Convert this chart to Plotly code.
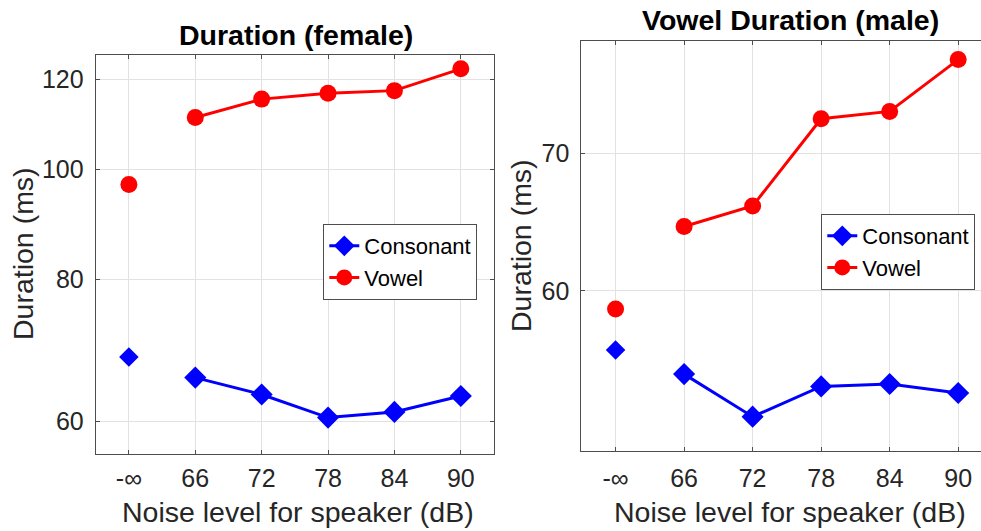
import math
import plotly.graph_objects as go

# Noise levels (first entry is the quiet / no-noise condition)
noise_labels = ["-∞", "66", "72", "78", "84", "90"]
noise_pos = [0, 1, 2, 3, 4, 5]

# Segment durations in ms
female_consonant = [68.4, 65.6, 63.4, 60.5, 61.2, 63.2]
female_vowel = [97.0, 111.1, 115.3, 116.7, 117.3, 122.6]
male_consonant = [56.15, 54.65, 52.1, 53.9, 54.05, 53.5]
male_vowel = [58.8, 64.5, 66.0, 72.8, 73.4, 77.8]

W, H = 981, 531
FONT = "Liberation Sans, Arial, Helvetica, sans-serif"
AX_COL = "#262626"
GRID = "#e2e2e2"
BLUE = "#0000ff"
RED = "#ff0000"


def px(x):
    return x / W


def py(y):
    return 1 - y / H


fig = go.Figure()


def add_panel(xa, ya, legend, cons, vow):
    # quiet condition drawn as isolated markers
    fig.add_trace(go.Scatter(
        x=noise_pos[:1], y=cons[:1], mode="markers", xaxis=xa, yaxis=ya,
        marker=dict(symbol="diamond", size=15, color=BLUE),
        showlegend=False, hoverinfo="skip"))
    fig.add_trace(go.Scatter(
        x=noise_pos[:1], y=vow[:1], mode="markers", xaxis=xa, yaxis=ya,
        marker=dict(symbol="circle", size=17, color=RED),
        showlegend=False, hoverinfo="skip"))
    # noise conditions joined by lines
    fig.add_trace(go.Scatter(
        x=noise_pos[1:], y=cons[1:], mode="lines+markers", name="Consonant",
        xaxis=xa, yaxis=ya, legend=legend,
        line=dict(color=BLUE, width=3),
        marker=dict(symbol="diamond", size=17, color=BLUE)))
    fig.add_trace(go.Scatter(
        x=noise_pos[1:], y=vow[1:], mode="lines+markers", name="Vowel",
        xaxis=xa, yaxis=ya, legend=legend,
        line=dict(color=RED, width=3),
        marker=dict(symbol="circle", size=17, color=RED)))


add_panel("x", "y", "legend", female_consonant, female_vowel)
add_panel("x2", "y2", "legend2", male_consonant, male_vowel)

axis_common = dict(
    showgrid=True, gridcolor=GRID, gridwidth=1,
    showline=True, linecolor="#4d4d4d", linewidth=1,
    ticks="inside", ticklen=4, tickcolor="#4d4d4d",
    tickfont=dict(family=FONT, size=25, color=AX_COL),
    zeroline=False,
)

legend_common = dict(
    bgcolor="white", bordercolor="#4d4d4d", borderwidth=1,
    font=dict(family=FONT, size=22, color="black"),
    xanchor="right", yanchor="top", tracegroupgap=0,
)

fig.update_layout(
    width=W, height=H,
    margin=dict(l=0, r=0, t=0, b=0),
    paper_bgcolor="white", plot_bgcolor="white",
    xaxis=dict(axis_common, domain=[px(95.7), px(494)], range=[-0.5, 5.5],
               tickvals=noise_pos, ticktext=noise_labels, mirror="ticks",
               ticklabelstandoff=2, anchor="y"),
    yaxis=dict(axis_common, domain=[py(454), py(55.3)], type="log",
               range=[math.log10(56.2), math.log10(126)],
               tickvals=[60, 80, 100, 120], mirror="ticks",
               ticklabelstandoff=6, anchor="x"),
    xaxis2=dict(axis_common, domain=[px(581.3), 1.0],
                range=[-0.5, 5.333], tickvals=noise_pos, ticktext=noise_labels,
                mirror="ticks", ticklabelstandoff=5, anchor="y2"),
    yaxis2=dict(axis_common, domain=[py(451), py(41)], type="log",
                range=[math.log10(50.13), math.log10(79.44)],
                tickvals=[60, 70], mirror=False,
                ticklabelstandoff=6, anchor="x2"),
    legend=dict(legend_common, x=px(477.3), y=py(224)),
    legend2=dict(legend_common, x=px(975.3), y=py(214)),
    showlegend=True,
)

title_font = dict(family=FONT, size=28.5, color="black")
label_font = dict(family=FONT, size=28.5, color=AX_COL)

annotations = [
    dict(text="<b>Duration (female)</b>", x=px(296), y=py(35),
         font=title_font),
    dict(text="<b>Vowel Duration (male)</b>", x=px(790), y=py(20),
         font=title_font),
    dict(text="Noise level for speaker (dB)", x=px(298), y=py(512),
         font=label_font),
    dict(text="Noise level for speaker (dB)", x=px(790), y=py(512),
         font=label_font),
    dict(text="Duration (ms)", x=px(23), y=py(254), textangle=-90,
         font=label_font),
    dict(text="Duration (ms)", x=px(521), y=py(246), textangle=-90,
         font=label_font),
]
for a in annotations:
    a.update(xref="paper", yref="paper", showarrow=False,
             xanchor="center", yanchor="middle")
fig.update_layout(annotations=annotations)

fig.write_html("out.html")
